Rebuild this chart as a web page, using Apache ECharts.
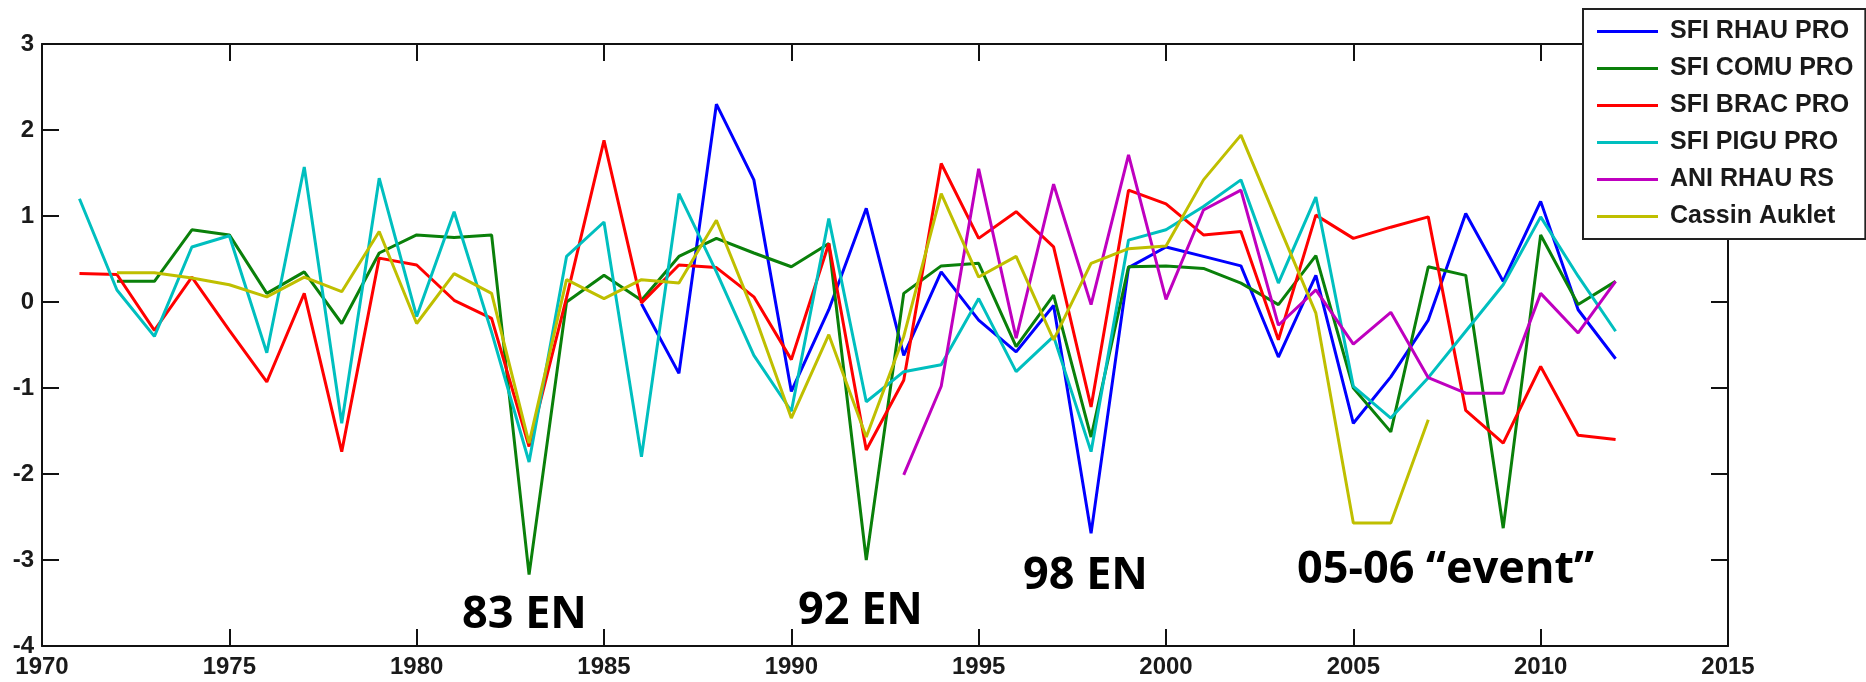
<!DOCTYPE html>
<html>
<head>
<meta charset="utf-8">
<script src="https://cdn.jsdelivr.net/npm/echarts@6/dist/echarts.min.js"></script>
<style>
html,body{margin:0;padding:0;background:#fff;}
#chart{width:1866px;height:682px;}
</style>
</head>
<body>
<div id="chart"></div>
<script>
// ---- data (years 1971..2012) ----
const years = [1971,1972,1973,1974,1975,1976,1977,1978,1979,1980,
               1981,1982,1983,1984,1985,1986,1987,1988,1989,1990,
               1991,1992,1993,1994,1995,1996,1997,1998,1999,2000,
               2001,2002,2003,2004,2005,2006,2007,2008,2009,2010,
               2011,2012];

const seriesNames = ['SFI RHAU PRO','SFI COMU PRO','SFI BRAC PRO','SFI PIGU PRO','ANI RHAU RS','Cassin Auklet'];

const sfiRhauPro = [null,null,null,null,null,null,null,null,null,null,
                    null,null,null,null,null,-0.02,-0.83,2.30,1.42,-1.04,
                    -0.09,1.09,-0.62,0.35,-0.21,-0.58,-0.04,-2.69,0.40,0.64,
                    0.53,0.42,-0.64,0.31,-1.41,-0.87,-0.21,1.03,0.24,1.17,
                    -0.09,-0.66];

const sfiComuPro = [null,0.24,0.24,0.84,0.78,0.10,0.35,-0.25,0.57,0.78,
                    0.75,0.78,-3.17,0.00,0.31,0.02,0.53,0.74,0.57,0.41,
                    0.68,-3.00,0.10,0.42,0.45,-0.52,0.08,-1.57,0.41,0.42,
                    0.39,0.22,-0.03,0.54,-1.00,-1.51,0.41,0.31,-2.63,0.78,
                    -0.03,0.24];

const sfiBracPro = [0.33,0.32,-0.33,0.29,-0.33,-0.93,0.10,-1.74,0.51,0.43,
                    0.02,-0.19,-1.68,0.05,1.88,-0.01,0.43,0.40,0.06,-0.67,
                    0.68,-1.72,-0.91,1.61,0.74,1.05,0.64,-1.22,1.30,1.14,
                    0.78,0.82,-0.44,1.01,0.74,0.87,0.99,-1.26,-1.64,-0.75,
                    -1.55,-1.60];

const sfiPiguPro = [1.20,0.14,-0.40,0.64,0.77,-0.59,1.57,-1.41,1.44,-0.17,
                    1.05,-0.35,-1.86,0.53,0.93,-1.80,1.26,0.35,-0.62,-1.27,
                    0.97,-1.16,-0.81,-0.73,0.04,-0.81,-0.40,-1.74,0.72,0.84,
                    1.11,1.42,0.22,1.22,-0.98,-1.35,-0.88,-0.34,0.20,0.99,
                    0.30,-0.34];

const aniRhauRs = [null,null,null,null,null,null,null,null,null,null,
                   null,null,null,null,null,null,null,null,null,null,
                   null,null,-2.01,-0.98,1.55,-0.42,1.37,-0.03,1.71,0.03,
                   1.07,1.30,-0.27,0.14,-0.49,-0.12,-0.88,-1.06,-1.06,0.10,
                   -0.36,0.24];

const cassinAuklet = [null,0.34,0.34,0.28,0.20,0.06,0.29,0.12,0.82,-0.25,
                      0.33,0.10,-1.64,0.26,0.04,0.26,0.22,0.95,-0.13,-1.35,
                      -0.38,-1.57,-0.40,1.26,0.29,0.53,-0.44,0.45,0.62,0.65,
                      1.42,1.94,0.90,-0.13,-2.57,-2.57,-1.37,null,null,null,
                      null,null];

const xTicks = {min:1970, max:2015, step:5};
const yTicks = {min:-4, max:3, step:1};

const annotations = ['83 EN','92 EN','98 EN','05-06 \u201Cevent\u201D'];

// ---- chart ----
const colors = ['#0000ff','#0a800a','#ff0000','#00bfbf','#bf00bf','#bfbf00'];
const valueSets = [sfiRhauPro,sfiComuPro,sfiBracPro,sfiPiguPro,aniRhauRs,cassinAuklet];

const labelFont = {fontFamily:'Liberation Sans, Arial, sans-serif', fontWeight:'bold', fontSize:24, color:'#1a1a1a'};
const axisLineStyle = {color:'#111', width:2};

function xAxisDef(pos, showLabel){
  return {
    type:'value', position:pos, min:xTicks.min, max:xTicks.max, interval:xTicks.step,
    axisLine:{show:true, onZero:false, lineStyle:axisLineStyle},
    axisTick:{show:true, inside:true, length:17, lineStyle:{color:'#111', width:2}},
    axisLabel:{show:showLabel, margin:9, formatter:v=>String(v), ...labelFont},
    splitLine:{show:false}
  };
}
function yAxisDef(pos, showLabel){
  return {
    type:'value', position:pos, min:yTicks.min, max:yTicks.max, interval:yTicks.step,
    axisLine:{show:true, onZero:false, lineStyle:axisLineStyle},
    axisTick:{show:true, inside:true, length:17, lineStyle:{color:'#111', width:2}},
    axisLabel:{show:showLabel, margin:8, formatter:v=>String(v), ...labelFont},
    splitLine:{show:false}
  };
}

const series = seriesNames.map((name,i)=>({
  name:name,
  type:'line',
  xAxisIndex:0, yAxisIndex:0,
  data: years.map((y,k)=>[y, valueSets[i][k]]),
  showSymbol:false,
  symbol:'none',
  connectNulls:false,
  lineStyle:{color:colors[i], width:3},
  itemStyle:{color:colors[i]},
  emphasis:{disabled:true}
}));

const annoPos = [[462,615],[798,611],[1023,576],[1297,570]];
const graphic = annotations.map((t,i)=>({
  type:'text', x:annoPos[i][0], y:annoPos[i][1], z:10,
  style:{text:t, fill:'#000', font:'bold 45px "Open Sans", "Noto Sans", sans-serif', verticalAlign:'middle', align:'left'}
}));

const chart = echarts.init(document.getElementById('chart'), null, {renderer:'canvas'});
chart.setOption({
  animation:false,
  backgroundColor:'#fff',
  grid:{left:42, right:138, top:44, bottom:36, containLabel:false},
  xAxis:[xAxisDef('bottom',true), xAxisDef('top',false)],
  yAxis:[yAxisDef('left',true), yAxisDef('right',false)],
  legend:{
    show:true, orient:'vertical', left:1583, top:9,
    padding:[10,12,10,14], itemGap:12, itemWidth:61, itemHeight:3, icon:'rect',
    borderColor:'#222', borderWidth:2, backgroundColor:'#fff',
    textStyle:{fontFamily:'Liberation Sans, Arial, sans-serif', fontWeight:'bold', fontSize:25, color:'#1a1a1a', padding:[0,0,0,7]},
    data:seriesNames
  },
  series:series,
  graphic:graphic
});
</script>
</body>
</html>
